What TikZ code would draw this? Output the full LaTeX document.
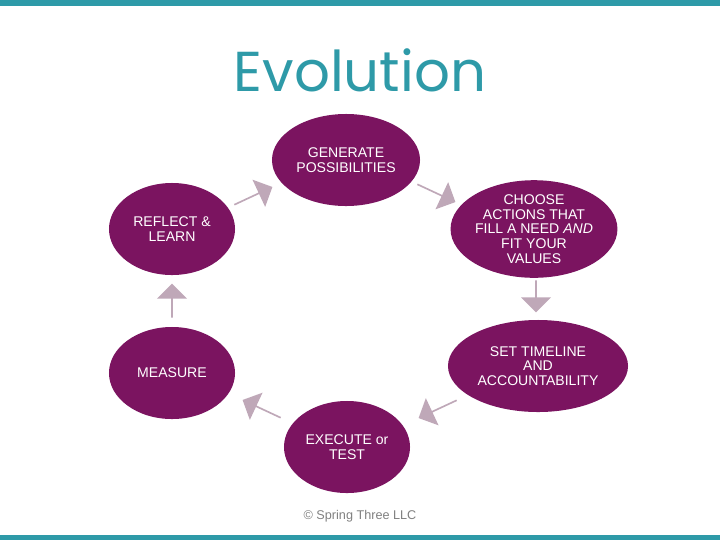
\documentclass[tikz,border=0pt]{standalone}
\usepackage{fontspec}
\setmainfont{Liberation Sans}
\newfontfamily\titlefont{Poppins}
\usetikzlibrary{shapes.geometric, shapes.arrows}
\definecolor{plum}{HTML}{7B1460}
\definecolor{teal}{HTML}{2E9AA8}
\definecolor{mauve}{HTML}{BFA8B8}
\tikzset{
  stage/.style={ellipse, fill=plum, text=white, align=center, inner sep=0pt, font=\fontsize{10}{10.5}\selectfont},
  flow/.style={single arrow, fill=mauve, minimum height=1.05cm, minimum width=0.75cm, single arrow head extend=0.12cm, inner sep=0pt}
}
\begin{document}
\begin{tikzpicture}[x=0.025cm, y=-0.025cm]
  \useasboundingbox (0,0) rectangle (720,540);
  \fill[teal] (0,0) rectangle (720,6);
  \fill[teal] (0,535) rectangle (720,540);
  \node (title) [text=teal, font=\titlefont\fontsize{40}{40}\selectfont] at (360,70) {Evolution};

  \node (gen) [stage, minimum width=3.7cm, minimum height=2.3cm] at (346,160) {GENERATE\\POSSIBILITIES};
  \node (choose) [stage, minimum width=4.05cm, minimum height=2.35cm] at (534,229) {CHOOSE\\ACTIONS THAT\\FILL A NEED \textit{AND}\\FIT YOUR\\VALUES};
  \node (set) [stage, minimum width=4.5cm, minimum height=2.3cm] at (538,366) {SET TIMELINE\\AND\\ACCOUNTABILITY};
  \node (exec) [stage, minimum width=3.15cm, minimum height=2.3cm] at (347,447) {EXECUTE or\\TEST};
  \node (measure) [stage, minimum width=3.15cm, minimum height=2.3cm] at (172,373) {MEASURE};
  \node (reflect) [stage, minimum width=3.15cm, minimum height=2.3cm] at (172,229) {REFLECT \&\\LEARN};

  % block arrows
  \node (a1) [flow, rotate=25] at (253,196) {};
  \node (a2) [flow, rotate=-25] at (436,193) {};
  \node (a3) [flow, rotate=-90, minimum height=0.8cm] at (536,296) {};
  \node (a4) [flow, rotate=205] at (438,409) {};
  \node (a5) [flow, rotate=155] at (262,409) {};
  \node (a6) [flow, rotate=90, minimum height=0.85cm] at (172,301) {};

  \node (copy) [text=gray, font=\fontsize{9}{9}\selectfont] at (360,516) {© Spring Three LLC};
\end{tikzpicture}
\end{document}
